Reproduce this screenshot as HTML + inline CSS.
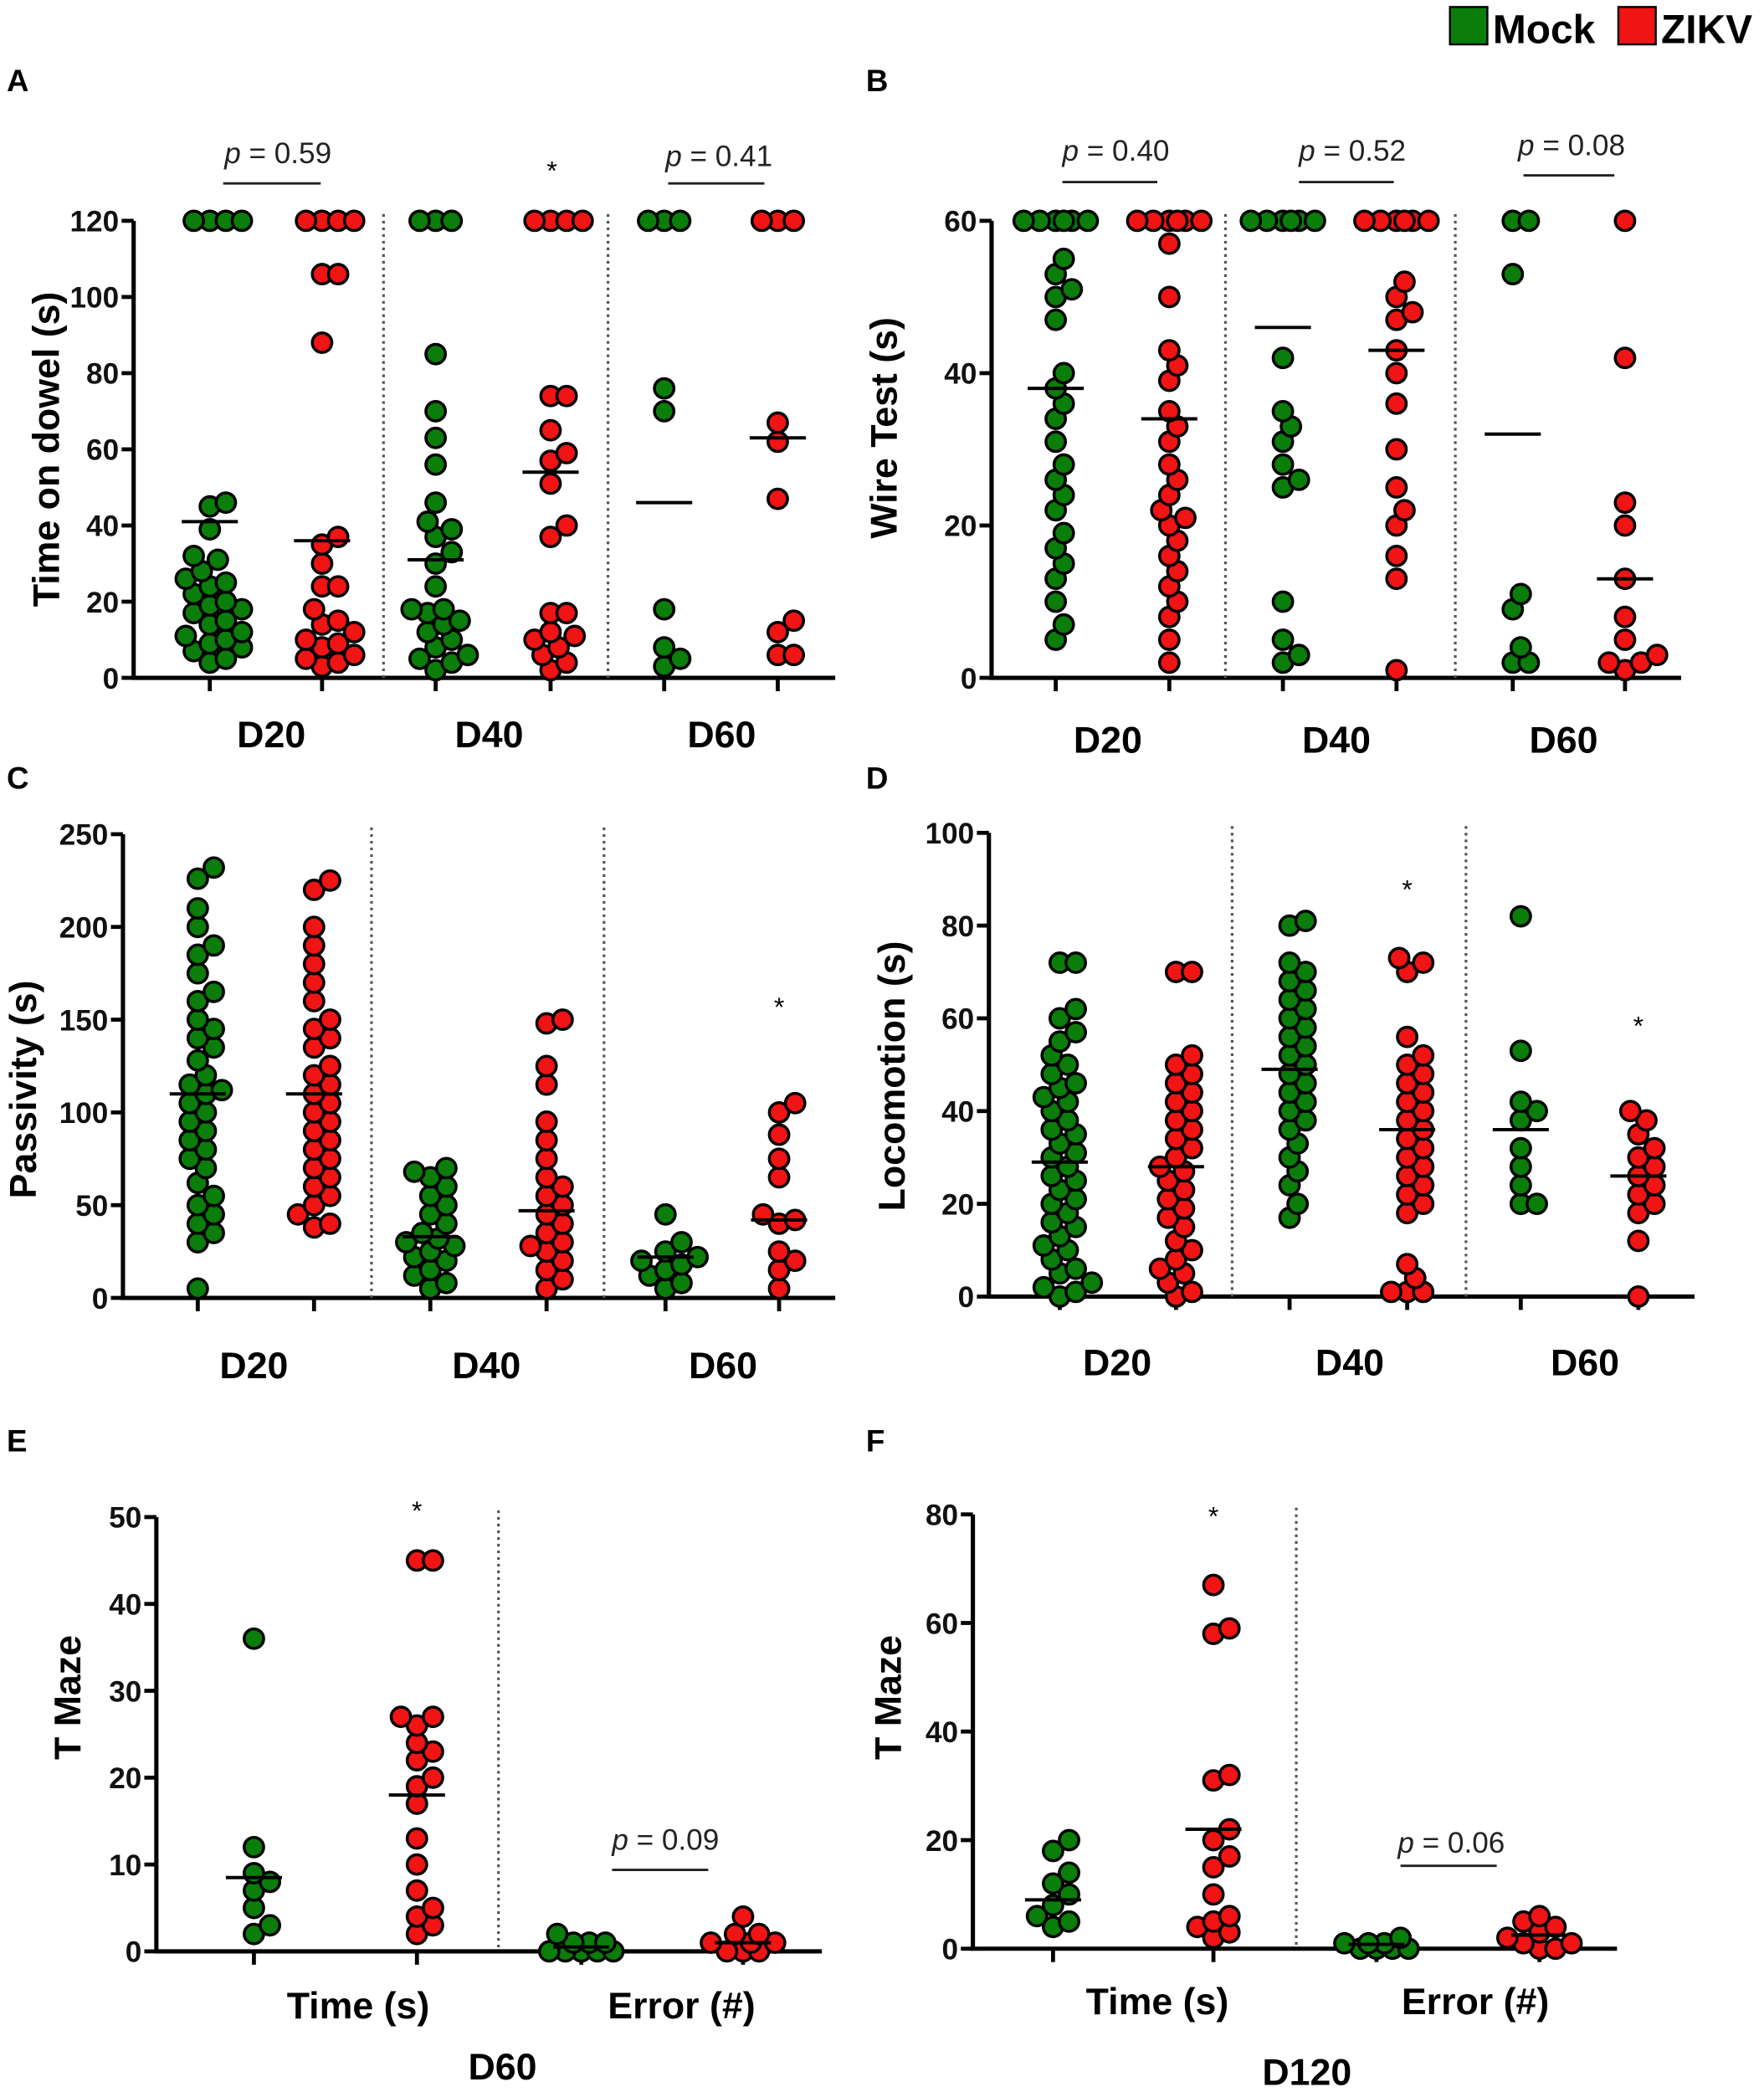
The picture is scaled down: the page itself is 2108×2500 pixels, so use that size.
<!DOCTYPE html>
<html><head><meta charset="utf-8"><style>
html,body{margin:0;padding:0;background:#fff;}
svg{display:block;font-family:"Liberation Sans",sans-serif;}
</style></head><body>
<svg id="fig" width="2108" height="2500" viewBox="0 0 1320 1565" xmlns="http://www.w3.org/2000/svg"></svg>
<script>
// ---------- DATA ----------
const aCategories = ["D20","D40","D60"];
const aMock = [[120,120,120,120,46,45,39,32,31,28,26,25,24,22,20,19,18,17,15,14,12,11,10,9,8,7,5,4],[120,120,120,85,70,63,56,46,41,39,37,33,30,24,18,18,17,15,14,12,10,8,6,5,4,2],[120,120,120,76,70,18,8,5,3]];
const aZikv = [[120,120,120,120,106,106,88,37,35,30,24,24,18,15,14,12,10,9,8,6,5,4,3],[120,120,120,120,74,74,65,59,57,51,40,37,17,17,12,11,10,8,6,4,2],[120,120,120,67,62,47,15,12,6,6]];
const aMockMean = [41,31,46];
const aZikvMean = [36,54,63];
const aTicks = [0,20,40,60,80,100,120];

const bCategories = ["D20","D40","D60"];
const bMock = [[60,60,60,60,60,60,55,53,51,50,47,40,38,36,34,31,28,26,24,22,19,17,15,13,10,7,5],[60,60,60,60,60,60,42,35,33,31,28,26,25,10,5,3,2],[60,60,53,11,9,4,2,2]];
const bZikv = [[60,60,60,60,60,60,57,50,43,41,39,35,33,31,28,26,24,22,21,20,18,16,14,12,10,8,5,2],[60,60,60,60,60,60,52,50,48,47,43,40,36,30,25,22,20,16,13,1],[60,42,23,20,13,8,5,3,2,2,1]];
const bMockMean = [38,46,32];
const bZikvMean = [34,43,13];
const bTicks = [0,20,40,60];

const cCategories = ["D20","D40","D60"];
const cMock = [[232,226,210,200,190,185,175,165,160,150,145,140,135,128,120,115,112,110,105,100,95,90,85,80,75,70,62,55,50,45,40,35,30,5],[70,68,65,60,55,50,45,40,35,32,30,28,25,22,20,15,12,8,5],[45,30,25,22,20,18,15,12,8,5]];
const cZikv = [[225,220,200,190,180,170,160,150,145,140,135,125,120,115,110,105,100,95,90,85,80,75,70,65,60,55,50,45,40,38],[150,148,125,115,95,85,75,65,60,55,50,45,40,35,30,28,25,20,15,10,5],[105,100,88,75,65,45,42,40,25,20,15,5]];
const cMockMean = [110,33,22];
const cZikvMean = [110,47,42];
const cTicks = [0,50,100,150,200,250];

const dCategories = ["D20","D40","D60"];
const dMock = [[72,72,62,60,57,55,52,50,48,46,45,43,42,40,38,36,35,33,31,30,28,26,25,23,21,20,18,16,15,13,11,10,8,6,5,3,2,1,0],[81,80,72,70,68,66,64,62,60,58,56,54,52,50,48,46,44,42,40,38,36,33,30,27,24,20,17],[82,53,42,40,38,32,28,24,20,20]];
const dZikv = [[70,70,52,50,48,46,44,42,40,38,36,34,32,30,28,27,25,23,21,19,17,15,12,10,8,6,5,3,1,0],[73,72,70,56,52,50,48,46,44,42,40,38,36,34,32,30,28,26,24,22,20,18,7,4,1,1,1],[40,38,35,32,30,28,26,24,22,20,18,12,0]];
const dMockMean = [29,49,36];
const dZikvMean = [28,36,26];
const dTicks = [0,20,40,60,80,100];

const eCategories = ["Time (s)","Error (#)"];
const eMock = [[36,12,9,8,7,5,3,2],[2,1,1,1,0,0,0,0,0]];
const eZikv = [[45,45,27,27,26,24,23,22,20,19,17,13,10,7,5,4,3,2],[4,2,2,1,1,1,0,0,0]];
const eMockMean = [8.5,0.5];
const eZikvMean = [18,1];
const eTicks = [0,10,20,30,40,50];

const fCategories = ["Time (s)","Error (#)"];
const fMock = [[20,18,14,12,10,8,6,5,4],[2,1,1,1,0,0,0,0]];
const fZikv = [[67,59,58,32,31,22,20,17,15,10,6,5,4,3,2],[6,5,4,3,2,1,1,0,0]];
const fMockMean = [9,0.8];
const fZikvMean = [22,2.5];
const fTicks = [0,20,40,60,80];

// ---------- DRAW ----------
const NS="http://www.w3.org/2000/svg";
const svg=document.getElementById('fig');
const GREEN="#0a7d0a", RED="#f01414";
function mk(tag,attrs,parent,text){const e=document.createElementNS(NS,tag);for(const k in attrs)e.setAttribute(k,attrs[k]);if(text!==undefined)e.textContent=text;(parent||svg).appendChild(e);return e;}

function panel(cfg){
  const g=mk('g',{});
  
  
  const ymax=cfg.ticks[cfg.ticks.length-1];
  const Y=v=>cfg.y0-(v/ymax)*(cfg.y0-cfg.yTop);
  const lt=mk('text',{x:cfg.lx,y:cfg.ly,'font-size':23,'font-weight':'bold'},g,cfg.letter);
  
  const yt=mk('text',{x:0,y:0,'font-size':28,'font-weight':'bold','text-anchor':'middle',transform:`translate(${cfg.ytx},${cfg.yty}) rotate(-90)`},g,cfg.ytitle);
  
  const ax=mk('path',{d:`M${cfg.ax},${cfg.yTop}V${cfg.y0}H${cfg.axEnd}`,stroke:'#000','stroke-width':3.2,fill:'none'},g);
  
  cfg.ticks.forEach(t=>{
    mk('line',{x1:cfg.ax-9,x2:cfg.ax,y1:Y(t),y2:Y(t),stroke:'#000','stroke-width':3},g);
    const tl=mk('text',{x:cfg.ax-11,y:Y(t)+8,'font-size':22,'font-weight':'bold','text-anchor':'end',fill:'#111'},g,String(t));
    
  });
  cfg.seps.forEach(x=>{
    const s=mk('line',{x1:x,x2:x,y1:cfg.yTop-5,y2:cfg.y0,stroke:'#555','stroke-width':2,'stroke-dasharray':'2,3'},g);
    
  });
  cfg.cats.forEach((c,i)=>{
    const tl=mk('text',{x:cfg.catX[i],y:cfg.catY,'font-size':28,'font-weight':'bold','text-anchor':'middle'},g,c);
    
  });
  const series=[[cfg.mock,cfg.mockMean,GREEN,'mock'],[cfg.zikv,cfg.zikvMean,RED,'zikv']];
  cfg.cats.forEach((c,i)=>{
    series.forEach((s,si)=>{
      const cx=cfg.gx[i][si];
      mk('line',{x1:cx,x2:cx,y1:cfg.y0,y2:cfg.y0+10,stroke:'#000','stroke-width':3},g);
      const vals=s[0][i].slice().sort((a,b)=>a-b);
      const placed=[];const r=7.3,step=6,maxOff=24;
      vals.forEach(v=>{
        const py=Y(v);let px=null,best=-1,bestX=cx;
        for(let k=0;k<=2*maxOff/step;k++){
          const off=(k===0?0:(k%2?1:-1)*Math.ceil(k/2)*step);
          const tx=cx+off;
          const md=placed.length?Math.min(...placed.map(p=>Math.hypot(p[0]-tx,p[1]-py))):99;
          if(md>=2*r-3){px=tx;break;}
          if(md>best){best=md;bestX=tx;}
        }
        if(px===null)px=bestX;
        placed.push([px,py]);
        const dot=mk('circle',{cx:px,cy:py,r:r,fill:s[2],stroke:'#000','stroke-width':2.2},g);
        
        
      });
      const m=mk('line',{x1:cx-21,x2:cx+21,y1:Y(s[1][i]),y2:Y(s[1][i]),stroke:'#000','stroke-width':2.5},g);
      
    });
  });
  (cfg.annos||[]).forEach(a=>{
    if(a.star){const st=mk('text',{x:a.x,y:a.y,'font-size':20,'text-anchor':'middle'},g,'*');}
    else{
      const t=mk('text',{x:a.x,y:a.y,'font-size':22,'text-anchor':'middle',fill:'#222'},g);
      
      mk('tspan',{'font-style':'italic'},t,'p');mk('tspan',{},t,' = '+a.p);
      const l=mk('line',{x1:a.l1,x2:a.l2,y1:a.ly,y2:a.ly,stroke:'#222','stroke-width':1.8},g);
      
    }
  });
  if(cfg.sub){const t=mk('text',{x:cfg.sub[1],y:cfg.sub[2],'font-size':28,'font-weight':'bold','text-anchor':'middle'},g,cfg.sub[0]);}
}

panel({letter:'A',lx:5,ly:68,ytitle:'Time on dowel (s)',ytx:44,yty:336,ax:100,axEnd:625,y0:507,yTop:165,ticks:aTicks,
  cats:aCategories,catX:[203,366,540],catY:559,seps:[287,455],gx:[[157,241],[326,412],[497,582]],
  mock:aMock,zikv:aZikv,mockMean:aMockMean,zikvMean:aZikvMean,
  annos:[{x:208,y:122,p:'0.59',l1:167,l2:240,ly:137},{star:1,x:413,y:134},{x:538,y:124,p:'0.41',l1:500,l2:572,ly:137}]});
panel({letter:'B',lx:648,ly:68,ytitle:'Wire Test (s)',ytx:671,yty:320,ax:742,axEnd:1258,y0:507,yTop:165,ticks:bTicks,
  cats:bCategories,catX:[829,1000,1170],catY:563,seps:[917,1089],gx:[[790,875],[960,1045],[1132,1216]],
  mock:bMock,zikv:bZikv,mockMean:bMockMean,zikvMean:bZikvMean,
  annos:[{x:835,y:120,p:'0.40',l1:795,l2:866,ly:136},{x:1012,y:120,p:'0.52',l1:972,l2:1043,ly:136},{x:1176,y:116,p:'0.08',l1:1140,l2:1208,ly:131}]});
panel({letter:'C',lx:5,ly:590,ytitle:'Passivity (s)',ytx:27,yty:815,ax:92,axEnd:625,y0:971,yTop:624,ticks:cTicks,
  cats:cCategories,catX:[190,364,541],catY:1031,seps:[278,452],gx:[[148,235],[322,409],[498,583]],
  mock:cMock,zikv:cZikv,mockMean:cMockMean,zikvMean:cZikvMean,
  annos:[{star:1,x:583,y:760}]});
panel({letter:'D',lx:648,ly:590,ytitle:'Locomotion (s)',ytx:677,yty:805,ax:740,axEnd:1268,y0:970,yTop:623,ticks:dTicks,
  cats:dCategories,catX:[836,1010,1186],catY:1029,seps:[922,1097],gx:[[793,880],[965,1053],[1138,1226]],
  mock:dMock,zikv:dZikv,mockMean:dMockMean,zikvMean:dZikvMean,
  annos:[{star:1,x:1053,y:672},{star:1,x:1226,y:774}]});
panel({letter:'E',lx:5,ly:1086,ytitle:'T Maze',ytx:60,yty:1270,ax:117,axEnd:615,y0:1460,yTop:1135,ticks:eTicks,
  cats:eCategories,catX:[268,510],catY:1510,seps:[373],gx:[[190,312],[435,556]],
  mock:eMock,zikv:eZikv,mockMean:eMockMean,zikvMean:eZikvMean,sub:['D60',376,1556],
  annos:[{star:1,x:312,y:1137},{x:498,y:1384,p:'0.09',l1:458,l2:530,ly:1399}]});
panel({letter:'F',lx:648,ly:1086,ytitle:'T Maze',ytx:674,yty:1270,ax:728,axEnd:1210,y0:1458,yTop:1133,ticks:fTicks,
  cats:fCategories,catX:[866,1104],catY:1507,seps:[970],gx:[[788,908],[1030,1152]],
  mock:fMock,zikv:fZikv,mockMean:fMockMean,zikvMean:fZikvMean,sub:['D120',978,1560],
  annos:[{star:1,x:908,y:1141},{x:1086,y:1386,p:'0.06',l1:1048,l2:1120,ly:1396}]});

const lg=mk('g',{});


mk('rect',{x:1085,y:5,width:28,height:28,fill:GREEN,stroke:'#000','stroke-width':1.5},lg);
const lm=mk('text',{x:1117,y:32,'font-size':30,'font-weight':'bold'},lg,'Mock');


mk('rect',{x:1211,y:5,width:28,height:28,fill:RED,stroke:'#000','stroke-width':1.5},lg);
const lz=mk('text',{x:1243,y:32,'font-size':30,'font-weight':'bold'},lg,'ZIKV');


</script>
</body></html>
